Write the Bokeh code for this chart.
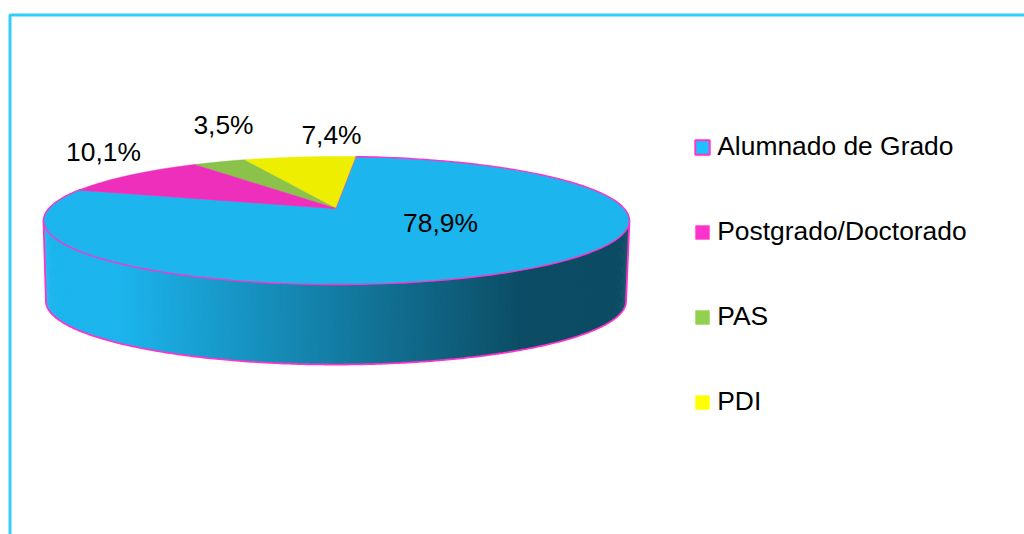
import numpy as np
from bokeh.plotting import figure
from bokeh.models import Range1d, Legend, LegendItem
from bokeh.core.properties import value
from bokeh.embed import file_html
from bokeh.resources import INLINE

categories = ["Alumnado de Grado", "Postgrado/Doctorado", "PAS", "PDI"]
shares = [78.9, 10.1, 3.5, 7.4]
label_text = ["78,9%", "10,1%", "3,5%", "7,4%"]
fills = ["#1CB5EE", "#EE2FBB", "#8BC34A", "#EEEE00"]
swatches = ["#1FC0FF", "#FF33CC", "#92D050", "#FFFF00"]
EDGE = "#FF33CC"
FRAME = "#33CCFF"
FONT = "Liberation Sans"

# pie projection, page pixels
START = 85.5
CX, CY, A, B, K = 336.0, 208.0, 287.8, 61.75, 0.1875
CX2, CY2, SCALE = 335.5, 288.8, 0.99


def project(deg, cx=CX, cy=CY, scale=1.0):
    t = np.radians(deg)
    w = 1 + K * np.sin(t)
    return cx + scale * A * np.cos(t) / w, cy - scale * B * np.sin(t) / w


p = figure(width=1024, height=534, x_range=Range1d(0, 1024), y_range=Range1d(534, 0),
           output_backend="svg", toolbar_location=None, min_border=0, outline_line_color=None)
p.axis.visible = False
p.grid.visible = False

# chart frame: left and top rule
p.line([9.5, 9.5, 1024], [534, 14.5, 14.5], line_color=FRAME, line_width=3)

# side wall between the widest points of the two discs; strips overlap to hide seams
rim = np.degrees(np.arcsin(K))
arc = np.arange(180 + rim, 360 - rim + 0.25, 0.5)
tx, ty = project(arc)
bx, by = project(arc, CX2, CY2, SCALE)
light = np.array([0x1C, 0xB5, 0xEE])
dark = np.array([0x0C, 0x4C, 0x64])
xs, ys, cols = [], [], []
for i in range(len(arc) - 1):
    j = min(i + 2, len(arc) - 1)
    f = np.clip((0.5 * (tx[i] + tx[i + 1]) - 115) / (525 - 115), 0, 1)
    c = light + (dark - light) * f
    cols.append("#%02x%02x%02x" % tuple(int(round(v)) for v in c))
    xs.append([tx[i], tx[j], bx[j], bx[i]])
    ys.append([ty[i], ty[j], by[j], by[i]])
p.patches(xs, ys, fill_color=cols, line_color=None)

# wall outline
p.line([tx[0]] + list(bx) + [tx[-1]], [ty[0]] + list(by) + [ty[-1]],
       line_color=EDGE, line_width=1.8)

# top face wedges, clockwise from the start angle
order = [0, 3, 2, 1]
ang = START
ends = {}
for i in order[1:]:
    ends[i] = (ang, ang + shares[i] * 360 / sum(shares))
    ang = ends[i][1]
ends[0] = (ang, START + 360)
for i in order:
    a = np.linspace(ends[i][0], ends[i][1], 240)
    x, y = project(a)
    outline = i == 0
    p.patch([CX - 1] + list(x), [CY - 0.3] + list(y), fill_color=fills[i],
            line_color=EDGE if outline else fills[i],
            line_width=1.4 if outline else 0.5)

# data labels
label_x = [440, 103, 223, 331]
label_y = [222, 151, 124, 134]
p.text(label_x, label_y, text=label_text, text_align="center", text_baseline="middle",
       text_font=value(FONT), text_font_size="26.4px", text_color="#000000")

# legend swatches have their own brighter fills: their renderers sit outside the visible range
off = [-100, -90, -90]
keys = [p.patch(off, off[::-1], fill_color=swatches[i], line_color=EDGE if i == 0 else None,
                line_width=2) for i in range(4)]
legend = Legend(items=[LegendItem(label=categories[i], renderers=[keys[i]]) for i in range(4)],
                location=(693.25, 117), orientation="vertical",
                glyph_width=18, glyph_height=18, label_standoff=6, spacing=54,
                padding=0, margin=0, border_line_color=None, background_fill_alpha=0,
                label_text_font=FONT, label_text_font_size="26.4px", label_text_color="#000000",
                label_height=30)
p.add_layout(legend, "center")

open("out.html", "w").write(file_html(p, INLINE))
